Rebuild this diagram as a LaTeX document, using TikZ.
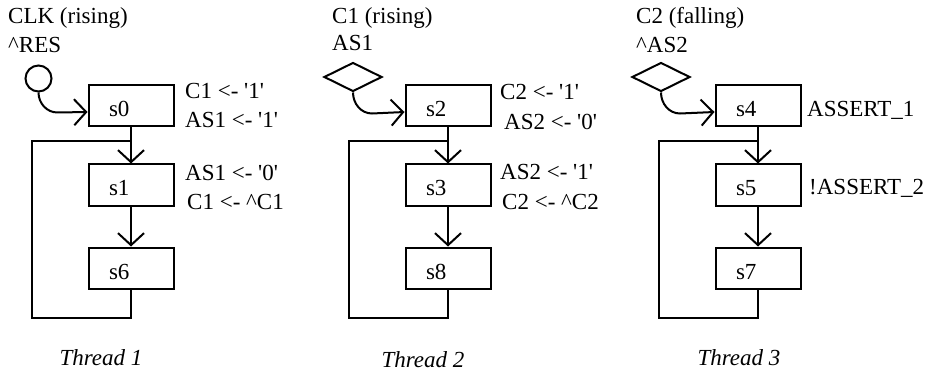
\documentclass[tikz,border=0pt]{standalone}
\usepackage{fontspec}
\setmainfont{Liberation Serif}
\usetikzlibrary{arrows.meta,shapes.geometric,positioning}
\newcommand\bigfont{\fontsize{23}{27}\selectfont}
\tikzset{
  state/.style={
    shape = rectangle,
    draw,
    line width = 2pt,
    minimum width = 85pt,
    minimum height = 41pt,
    text width = 44pt,
    align = left,
    text height = 22pt,
    text depth = 0pt,
    inner sep = 0pt
  },
}
\tikzset{
  wire/.style={
    line width = 2pt
  },
  flow/.style={
    line width = 2pt,
    -{Straight Barb[length=12pt,width=26pt]}
  },
  txt/.style={
    anchor = base west,
    inner sep = 0pt
  },
  thread/.style={
    anchor = base,
    inner sep = 0pt,
    font = \bigfont\itshape
  },
  reset/.style={
    shape = circle,
    draw,
    line width = 2pt,
    minimum size = 26pt,
    inner sep = 0pt
  },
  trig/.style={
    shape = diamond,
    draw,
    line width = 2pt,
    minimum width = 58pt,
    minimum height = 29pt,
    inner sep = 0pt
  }
}
\newcommand\q{\textquotesingle}
\newcommand\ct{\textasciicircum}
\begin{document}
\begin{tikzpicture}[x=1pt, y=-1pt, font=\bigfont]
    \useasboundingbox (0,0) rectangle (931,374);

    % thread 1
    \node[txt] (h1a) at (8,24) {CLK (rising)};
    \node[txt] (h1b) at (8,53) {\ct RES};
    \node[reset] (res) at (38.5,78.5) {};
    \node[state] (s0) at (131,106) {s0};
    \node[state] (s1) at (131,185) {s1};
    \node[state] (s6) at (131,268) {s6};
    \coordinate (b1) at (32,318);
    \coordinate (t1) at (32,141);
    \coordinate (j1) at (131,141);

    \draw[flow] (res.south) to[out=-90,in=180] ++(19,20) -- ([yshift=-6pt]s0.west);
    \draw[flow] (s0) -- (s1);
    \draw[flow] (s1) -- (s6);
    \draw[wire] (s6.south) |- (b1) -- (t1) -- (j1);

    \node[txt] at (185,99) {C1 <- \q1\q};
    \node[txt] at (185,128) {AS1 <- \q1\q};
    \node[txt] at (185,181) {AS1 <- \q0\q};
    \node[txt] at (187,210) {C1 <- \ct C1};
    \node[thread] (th1) at (101,365) {Thread 1};

    % thread 2
    \node[txt] (h2a) at (332,24) {C1 (rising)};
    \node[txt] (h2b) at (332,51) {AS1};
    \node[trig] (tr2) at (353,77) {};
    \node[state] (s2) at (448,106) {s2};
    \node[state] (s3) at (448,185) {s3};
    \node[state] (s8) at (448,268) {s8};
    \coordinate (b2) at (349,318);
    \coordinate (t2) at (349,141);
    \coordinate (j2) at (448,141);

    \draw[flow] (tr2.south) to[out=-90,in=180] ++(19,21) -- ([yshift=-6pt]s2.west);
    \draw[flow] (s2) -- (s3);
    \draw[flow] (s3) -- (s8);
    \draw[wire] (s8.south) |- (b2) -- (t2) -- (j2);

    \node[txt] at (500,100) {C2 <- \q1\q};
    \node[txt] at (504,130) {AS2 <- \q0\q};
    \node[txt] at (500,180) {AS2 <- \q1\q};
    \node[txt] at (502,210) {C2 <- \ct C2};
    \node[thread] (th2) at (423,367) {Thread 2};

    % thread 3
    \node[txt] (h3a) at (636,24) {C2 (falling)};
    \node[txt] (h3b) at (636,53) {\ct AS2};
    \node[trig] (tr3) at (661,77) {};
    \node[state] (s4) at (758,106) {s4};
    \node[state] (s5) at (758,185) {s5};
    \node[state] (s7) at (758,268) {s7};
    \coordinate (b3) at (659,318);
    \coordinate (t3) at (659,141);
    \coordinate (j3) at (758,141);

    \draw[flow] (tr3.south) to[out=-90,in=180] ++(19,21) -- ([yshift=-6pt]s4.west);
    \draw[flow] (s4) -- (s5);
    \draw[flow] (s5) -- (s7);
    \draw[wire] (s7.south) |- (b3) -- (t3) -- (j3);

    \node[txt] at (807,117) {ASSERT\_1};
    \node[txt] at (809,194) {!ASSERT\_2};
    \node[thread] (th3) at (739,365) {Thread 3};
\end{tikzpicture}
\end{document}
